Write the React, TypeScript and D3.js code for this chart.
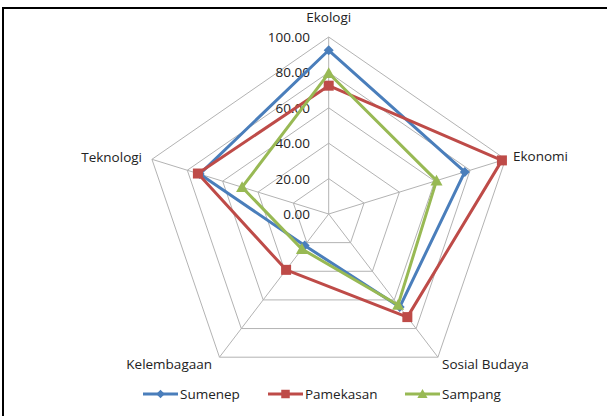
import React from "react";
import * as d3 from "d3";

const axes = ["Ekologi", "Ekonomi", "Sosial Budaya", "Kelembagaan", "Teknologi"];
const tickValues = [0, 20, 40, 60, 80, 100];
const tickLabels = ["0.00", "20.00", "40.00", "60.00", "80.00", "100.00"];
const seriesNames = ["Sumenep", "Pamekasan", "Sampang"];
const sumenep = [92.5, 77, 65, 22, 73];
const pamekasan = [72.5, 98, 72, 39, 74];
const sampang = [79.5, 61, 63.5, 24.5, 49];
const colors = ["#4a7ebb", "#be4b48", "#98b954"];

const W = 607, H = 416;
const cx = 328.7, cy = 214;
const sx = 1.05;
const font = "'Open Sans', sans-serif";
const fs = 13.5;

export default function App() {
  const r = d3.scaleLinear().domain([0, 100]).range([0, 177]);
  const ang = (i: number) => (i * 2 * Math.PI) / axes.length;
  const pt = (i: number, v: number): [number, number] => [
    cx + Math.sin(ang(i)) * r(v) * sx,
    cy - Math.cos(ang(i)) * r(v),
  ];
  const ringLine = d3.line<[number, number]>().curve(d3.curveLinearClosed);
  const data = [sumenep, pamekasan, sampang];

  const marker = (k: number, x: number, y: number, key: string, sc = 1) => {
    const c = colors[k];
    if (k === 0) {
      const s = 5 * sc;
      return <path key={key} d={`M${x},${y - s}L${x + s},${y}L${x},${y + s}L${x - s},${y}Z`} fill={c} />;
    }
    if (k === 1) {
      const s = 5 * sc;
      return <rect key={key} x={x - s} y={y - s} width={2 * s} height={2 * s} fill={c} />;
    }
    const s = 6 * sc;
    return <path key={key} d={`M${x},${y - s}L${x + s},${y + s * 0.8}L${x - s},${y + s * 0.8}Z`} fill={c} />;
  };

  const labelPos = [
    { x: 328.7, y: 22, anchor: "middle" },
    { x: 513, y: 161, anchor: "start" },
    { x: 442, y: 369, anchor: "start" },
    { x: 212, y: 369, anchor: "end" },
    { x: 142, y: 162, anchor: "end" },
  ];

  const legendX = [143, 268, 405];

  return (
    <svg width={W} height={H} style={{ position: "absolute", left: 0, top: 0, background: "#fff" }}>
      <rect x={0} y={0} width={W} height={H} fill="#fff" />
      <rect x={3} y={8} width={W + 10} height={H + 10} fill="none" stroke="#000" strokeWidth={2} />
      {tickValues.slice(1).map((t) => (
        <path
          key={"ring" + t}
          d={ringLine(axes.map((_, i) => pt(i, t))) || ""}
          fill="none"
          stroke="#b3b3b3"
          strokeWidth={1}
        />
      ))}
      {axes.map((_, i) => {
        const [x, y] = pt(i, 100);
        return <line key={"ax" + i} x1={cx} y1={cy} x2={x} y2={y} stroke="#b3b3b3" strokeWidth={1} />;
      })}
      {tickValues.map((t, j) => (
        <text
          key={"tl" + t}
          x={310}
          y={cy - r(t) + 5}
          textAnchor="end"
          fontFamily={font}
          fontSize={fs}
          fill="#222"
        >
          {tickLabels[j]}
        </text>
      ))}
      {axes.map((a, i) => (
        <text
          key={"lab" + i}
          x={labelPos[i].x}
          y={labelPos[i].y}
          textAnchor={labelPos[i].anchor as any}
          fontFamily={font}
          fontSize={fs}
          fill="#222"
        >
          {a}
        </text>
      ))}
      {data.map((vals, k) => (
        <g key={"s" + k}>
          <path
            d={ringLine(vals.map((v, i) => pt(i, v))) || ""}
            fill="none"
            stroke={colors[k]}
            strokeWidth={3}
            strokeLinejoin="round"
          />
          {vals.map((v, i) => {
            const [x, y] = pt(i, v);
            return marker(k, x, y, "m" + k + "-" + i);
          })}
        </g>
      ))}
      {seriesNames.map((n, k) => (
        <g key={"lg" + k}>
          <line x1={legendX[k]} y1={394} x2={legendX[k] + 35} y2={394} stroke={colors[k]} strokeWidth={3} />
          {marker(k, legendX[k] + 17.5, 394, "lm" + k, 0.85)}
          <text x={legendX[k] + 37} y={399} fontFamily={font} fontSize={fs} fill="#222">
            {n}
          </text>
        </g>
      ))}
    </svg>
  );
}
